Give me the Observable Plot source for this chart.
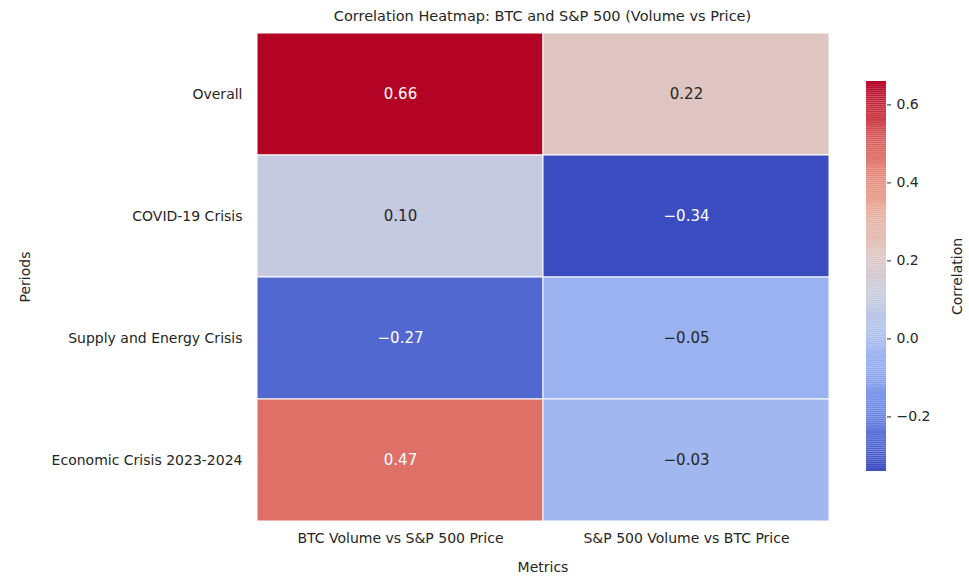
<!DOCTYPE html>
<html><head><meta charset="utf-8">
<script src="https://cdn.jsdelivr.net/npm/d3@7"></script>
<script src="https://cdn.jsdelivr.net/npm/@observablehq/plot@0.6"></script>
<style>
body{margin:0;background:#fff;font-family:"DejaVu Sans",sans-serif;}
#wrap{position:relative;width:969px;height:584px;}
#wrap > div{position:absolute;}
</style></head><body>
<div id="wrap"><div id="main" style="left:0;top:0"></div><div id="bar" style="left:830px;top:0"></div>
<div style="left:256px;width:573px;top:8px;text-align:center;font-size:14.5px;color:#262626">Correlation Heatmap: BTC and S&amp;P 500 (Volume vs Price)</div></div>
<script>
const periods = ["Overall", "COVID-19 Crisis", "Supply and Energy Crisis", "Economic Crisis 2023-2024"];
const metrics = ["BTC Volume vs S&P 500 Price", "S&P 500 Volume vs BTC Price"];
const btcVolVsSpx = [0.66, 0.10, -0.27, 0.47];
const spxVolVsBtc = [0.22, -0.34, -0.05, -0.03];
const barTicks = [-0.2, 0, 0.2, 0.4, 0.6];

const cells = periods.flatMap((p, i) => [
  {period: p, metric: metrics[0], v: btcVolVsSpx[i]},
  {period: p, metric: metrics[1], v: spxVolVsBtc[i]}
]);
const vals = cells.map(d => d.v);
const lo = d3.min(vals), hi = d3.max(vals);

// coolwarm approximation
const coolwarm = d3.interpolateRgbBasis(["#3b4cc0", "#8db0fe", "#dddddd", "#f49a7b", "#b40426"]);
const color = {type: "linear", domain: [lo, hi], interpolate: () => coolwarm};
const fmt = d3.format(".2f");
const txt = d => (d.v > 0.4 || d.v < -0.2) ? "white" : "#262626";

const main = Plot.plot({
  width: 969, height: 584,
  marginLeft: 256, marginRight: 140, marginTop: 32, marginBottom: 63,
  style: {fontFamily: "DejaVu Sans", fontSize: "14px", color: "#262626"},
  x: {domain: metrics, padding: 0, tickSize: 0, tickPadding: 12, label: "Metrics", labelAnchor: "center", labelOffset: 50},
  y: {domain: periods, padding: 0, tickSize: 0, tickPadding: 14, label: "Periods", labelAnchor: "center", labelOffset: 236},
  color,
  marks: [
    Plot.cell(cells, {x: "metric", y: "period", fill: "v", stroke: "white", strokeWidth: 1}),
    Plot.text(cells, {x: "metric", y: "period", text: d => fmt(d.v).replace("-", "-"), fill: txt, fontSize: 15})
  ]
});
document.getElementById("main").appendChild(main);

const steps = d3.range(0, 200).map(i => {
  const a = lo + (hi - lo) * i / 200, b = lo + (hi - lo) * (i + 1) / 200;
  return {y1: a, y2: b, v: (a + b) / 2};
});
const bar = Plot.plot({
  width: 139, height: 584,
  marginLeft: 36, marginRight: 83, marginTop: 81, marginBottom: 113,
  style: {fontFamily: "DejaVu Sans", fontSize: "14px", color: "#262626"},
  x: {axis: null},
  y: {domain: [lo, hi], axis: "right", ticks: barTicks, tickFormat: d => d3.format(".1f")(d).replace("-", "\u2212"),
      tickSize: 4, tickPadding: 6, label: "Correlation", labelAnchor: "center", labelOffset: 75, labelArrow: "none"},
  color,
  marks: [
    Plot.rectY(steps, {x1: 0, x2: 1, y1: "y1", y2: "y2", fill: "v"})
  ]
});
document.getElementById("bar").appendChild(bar);
</script></body></html>
